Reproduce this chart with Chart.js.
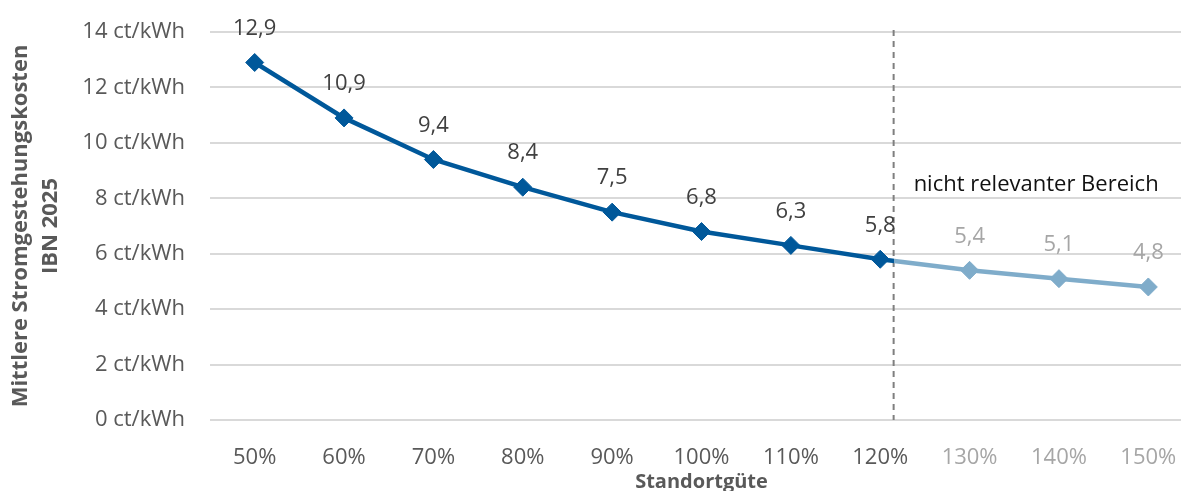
<!DOCTYPE html>
<html lang="de">
<head>
<meta charset="utf-8">
<script src="https://cdn.jsdelivr.net/npm/chart.js@4/dist/chart.umd.min.js"></script>
<style>
  html, body { margin: 0; padding: 0; background: #fff; overflow: hidden; }
  #wrap { width: 1181px; height: 491px; overflow: hidden; position: relative; }
  #wrap canvas { position: absolute; left: 0; top: 0; max-width: none; }
</style>
</head>
<body>
<div id="wrap"></div>
<script>
// Standortgüte categories and mean generation cost (ct/kWh)
const categories = ['50%', '60%', '70%', '80%', '90%', '100%', '110%', '120%', '130%', '140%', '150%'];
const costs = [12.9, 10.9, 9.4, 8.4, 7.5, 6.8, 6.3, 5.8, 5.4, 5.1, 4.8];
const yTickValues = [0, 2, 4, 6, 8, 10, 12, 14];
const relevantCount = 8;          // categories up to 120% are relevant
const dividerIndex = 7.15;        // boundary between relevant / non-relevant range (category units)
const noteText = 'nicht relevanter Bereich';
const noteValue = 8.5;            // vertical position of the note (ct/kWh)
const yTitle = ['Mittlere Stromgestehungskosten', 'IBN 2025'];
const xTitle = 'Standortgüte';

const DARK = '#00589a';
const LIGHT = '#7facca';
const TEXT = '#595959';
const TEXT_LIGHT = '#a6a6a6';
const FONT = "'Open Sans', 'Noto Sans', sans-serif";
const FS = 22;
const PLOT_RIGHT = 1193;          // plot area runs slightly past the visible edge
const CANVAS_H = 500;

function dividerPixel(chart) {
  const x = chart.scales.x;
  const i = Math.floor(dividerIndex);
  const p0 = x.getPixelForValue(i);
  const p1 = x.getPixelForValue(i + 1);
  return p0 + (p1 - p0) * (dividerIndex - i);
}

function lineColor(ctx) {
  const chart = ctx.chart;
  const area = chart.chartArea;
  if (!area) return DARK;
  const xd = dividerPixel(chart);
  const f = Math.min(1, Math.max(0, (xd - area.left) / (area.right - area.left)));
  const g = chart.ctx.createLinearGradient(area.left, 0, area.right, 0);
  g.addColorStop(0, DARK);
  g.addColorStop(f, DARK);
  g.addColorStop(Math.min(1, f + 0.0001), LIGHT);
  g.addColorStop(1, LIGHT);
  return g;
}

const fmt = v => v.toFixed(1).replace('.', ',');

// dashed divider + note
const dividerPlugin = {
  id: 'divider',
  beforeDatasetsDraw(chart) {
    const { ctx, chartArea, scales } = chart;
    const xd = dividerPixel(chart);
    ctx.save();
    ctx.strokeStyle = '#7f7f7f';
    ctx.lineWidth = 2;
    ctx.setLineDash([6, 5]);
    ctx.beginPath();
    ctx.moveTo(xd, chartArea.top - 2);
    ctx.lineTo(xd, chartArea.bottom);
    ctx.stroke();
    ctx.setLineDash([]);
    ctx.fillStyle = '#111';
    ctx.font = FS + 'px ' + FONT;
    ctx.textAlign = 'left';
    ctx.textBaseline = 'middle';
    ctx.fillText(noteText, xd + 20, scales.y.getPixelForValue(noteValue));
    ctx.restore();
  }
};

// value labels above each point
const valueLabels = {
  id: 'valueLabels',
  afterDatasetsDraw(chart) {
    const { ctx } = chart;
    const meta = chart.getDatasetMeta(0);
    ctx.save();
    ctx.font = FS + 'px ' + FONT;
    ctx.textAlign = 'center';
    ctx.textBaseline = 'middle';
    meta.data.forEach((pt, i) => {
      ctx.fillStyle = i < relevantCount ? '#404040' : TEXT_LIGHT;
      ctx.fillText(fmt(costs[i]), pt.x, pt.y - 34);
    });
    ctx.restore();
  }
};

function config() {
  return {
    type: 'line',
    data: {
      labels: categories,
      datasets: [{
        data: costs,
        borderColor: lineColor,
        borderWidth: 4.5,
        tension: 0,
        pointStyle: 'rectRot',
        pointRadius: 9,
        pointHoverRadius: 9,
        pointBorderWidth: 1,
        pointBackgroundColor: costs.map((_, i) => i < relevantCount ? DARK : LIGHT),
        pointBorderColor: costs.map((_, i) => i < relevantCount ? DARK : LIGHT)
      }]
    },
    options: {
      responsive: false,
      animation: false,
      layout: { padding: { top: 32, left: 6, right: 0, bottom: 0 } },
      plugins: { legend: { display: false }, tooltip: { enabled: false } },
      scales: {
        x: {
          offset: true,
          afterFit(scale) {
            scale.height = 80;
            scale.paddingLeft = 0;
            scale.paddingRight = 0;
          },
          grid: { display: false, drawTicks: false },
          border: { display: false },
          ticks: {
            padding: 0,
            font: { family: FONT, size: FS, lineHeight: '76px' },
            color: categories.map((_, i) => i < relevantCount ? TEXT : TEXT_LIGHT),
            maxRotation: 0,
            autoSkip: false
          },
          title: {
            display: true,
            text: xTitle,
            color: TEXT,
            font: { family: FONT, size: 20, weight: 'bold' },
            padding: { top: 0, bottom: 6 }
          }
        },
        y: {
          min: 0,
          max: 14,
          afterBuildTicks(scale) { scale.ticks = yTickValues.map(v => ({ value: v })); },
          afterFit(scale) {
            scale.width = 204;
            scale.paddingTop = 0;
            scale.paddingBottom = 0;
          },
          grid: { color: '#d9d9d9', lineWidth: 2, drawTicks: false },
          border: { display: false },
          ticks: {
            padding: 25,
            font: { family: FONT, size: FS },
            color: TEXT,
            callback: v => v + ' ct/kWh'
          },
          title: {
            display: true,
            text: yTitle,
            color: TEXT,
            font: { family: FONT, size: 22, weight: 'bold', lineHeight: 1.36 },
            padding: { top: 0, bottom: 0 }
          }
        }
      }
    },
    plugins: [dividerPlugin, valueLabels]
  };
}

function build(width) {
  const wrap = document.getElementById('wrap');
  wrap.innerHTML = '';
  const canvas = document.createElement('canvas');
  canvas.width = width;
  canvas.height = CANVAS_H;
  canvas.style.width = width + 'px';
  canvas.style.height = CANVAS_H + 'px';
  wrap.appendChild(canvas);
  return new Chart(canvas, config());
}

// widen the canvas until the plot area reaches PLOT_RIGHT
let width = PLOT_RIGHT;
let chart = build(width);
for (let k = 0; k < 3; k++) {
  const gap = Math.round(PLOT_RIGHT - chart.chartArea.right);
  if (Math.abs(gap) < 1) break;
  width += gap;
  chart.destroy();
  chart = build(width);
}
</script>
</body>
</html>
